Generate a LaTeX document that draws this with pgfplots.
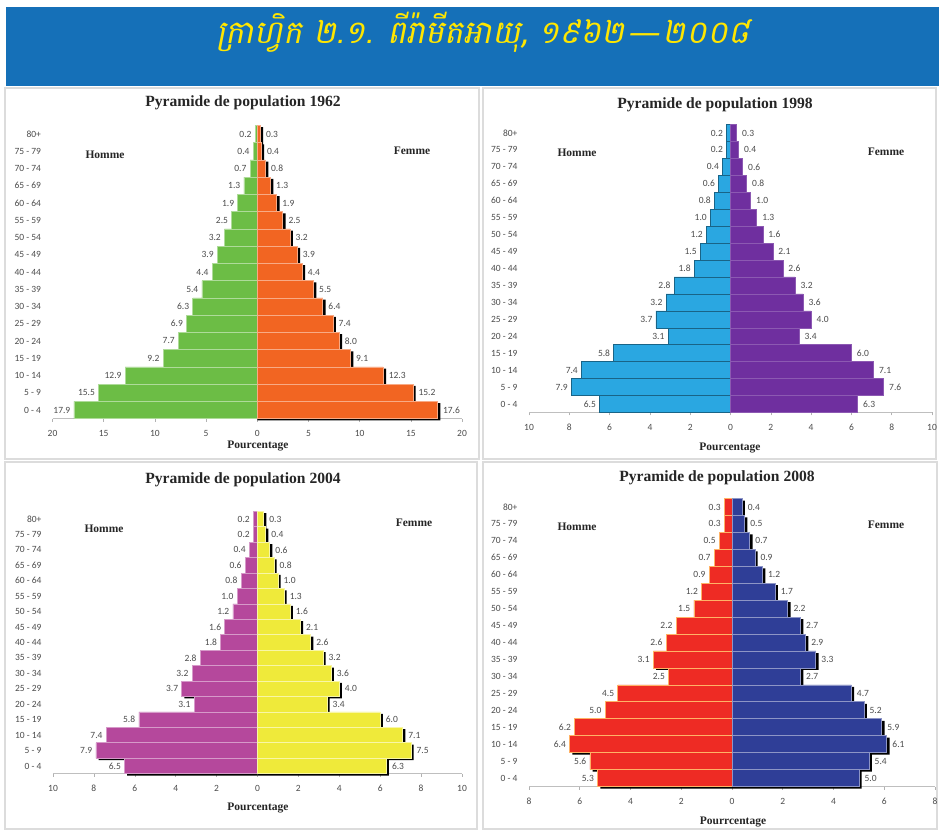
\documentclass[border=0pt]{standalone}
\usepackage{fontspec}
\setmainfont{Liberation Serif}
\newfontfamily\carlito{Carlito}
\newfontfamily\khmer[Script=Khmer,FakeSlant=0.2]{Battambang}
\newfontfamily\dashfont[FakeSlant=0.2]{DejaVu Sans}
\usepackage{pgfplots}
\usepackage{pgfplotstable}
\pgfplotsset{compat=1.18}

\definecolor{banner}{HTML}{1570B8}
\definecolor{ktitle}{HTML}{FFE600}
\definecolor{frame}{HTML}{DCDCDC}
\definecolor{gA}{HTML}{6CBD45}
\definecolor{oA}{HTML}{F26522}
\definecolor{bB}{HTML}{2AA7E1}
\definecolor{pB}{HTML}{6F2F9F}
\definecolor{mC}{HTML}{B5489C}
\definecolor{yC}{HTML}{EFEA3A}
\definecolor{rD}{HTML}{EE2B24}
\definecolor{nD}{HTML}{2F3E97}

% pos: 0 = 0-4 ... 16 = 80+ ; m = Homme, f = Femme (%)
\pgfplotstableread{
pos m f
16 0.2 0.3
15 0.4 0.4
14 0.7 0.8
13 1.3 1.3
12 1.9 1.9
11 2.5 2.5
10 3.2 3.2
9 3.9 3.9
8 4.4 4.4
7 5.4 5.5
6 6.3 6.4
5 6.9 7.4
4 7.7 8.0
3 9.2 9.1
2 12.9 12.3
1 15.5 15.2
0 17.9 17.6
}\tA

\pgfplotstableread{
pos m f
16 0.2 0.3
15 0.2 0.4
14 0.4 0.6
13 0.6 0.8
12 0.8 1.0
11 1.0 1.3
10 1.2 1.6
9 1.5 2.1
8 1.8 2.6
7 2.8 3.2
6 3.2 3.6
5 3.7 4.0
4 3.1 3.4
3 5.8 6.0
2 7.4 7.1
1 7.9 7.6
0 6.5 6.3
}\tB

\pgfplotstableread{
pos m f
16 0.2 0.3
15 0.2 0.4
14 0.4 0.6
13 0.6 0.8
12 0.8 1.0
11 1.0 1.3
10 1.2 1.6
9 1.6 2.1
8 1.8 2.6
7 2.8 3.2
6 3.2 3.6
5 3.7 4.0
4 3.1 3.4
3 5.8 6.0
2 7.4 7.1
1 7.9 7.5
0 6.5 6.3
}\tC

\pgfplotstableread{
pos m f
16 0.3 0.4
15 0.3 0.5
14 0.5 0.7
13 0.7 0.9
12 0.9 1.2
11 1.2 1.7
10 1.5 2.2
9 2.2 2.7
8 2.6 2.9
7 3.1 3.3
6 2.5 2.7
5 4.5 4.7
4 5.0 5.2
3 6.2 5.9
2 6.4 6.1
1 5.6 5.4
0 5.3 5.0
}\tD

\newcommand{\tickfont}{\carlito\fontsize{9.5}{11}\selectfont}
\pgfplotsset{
  pyr/.style={
    scale only axis, anchor=south west,
    xbar,
    ymin=-0.5, ymax=16.5,
    ytick={0,...,16},
    yticklabels={0 - 4,5 - 9,10 - 14,15 - 19,20 - 24,25 - 29,30 - 34,35 - 39,40 - 44,45 - 49,50 - 54,55 - 59,60 - 64,65 - 69,70 - 74,75 - 79,80+},
    axis x line*=bottom, axis y line*=left,
    y axis line style={draw=none},
    x axis line style={draw=black!25, line width=0.8pt},
    ytick style={draw=none},
    xtick style={draw=black!30, line width=0.6pt},
    tick align=outside, major tick length=3pt,
    ticklabel style={font=\tickfont, text=black!70},
    xticklabel style={yshift=-5pt},
    yticklabel style={xshift=-5pt},
    clip=false,
    every node near coord/.append style={font=\tickfont, text=black!70},
  },
  lab/.style={nodes near coords={\pgfmathprintnumber[fixed,fixed zerofill,precision=1,assume math mode=true]{\pgfplotspointmeta}}, point meta=explicit},
  labL/.style={lab, every node near coord/.append style={anchor=east}},
  labR/.style={lab, every node near coord/.append style={anchor=west, xshift=2pt}},
}

\begin{document}
\begin{tikzpicture}
\path[use as bounding box, fill=white] (0,0) rectangle (939pt,830pt);
% banner
\fill[banner] (6pt,823pt) rectangle (939pt,744pt);
\node[text=ktitle, font=\khmer\fontsize{32}{36}\selectfont] at (483pt,798pt) {ក្រាហ្វិក ២.១. ពីរ៉ាមីតអាយុ, ១៩៦២\hspace{3pt}{\dashfont—}\hspace{3pt}២០០៨};
% frames
\draw[frame, line width=2pt] (5pt,742pt) rectangle (479pt,371pt);
\draw[frame, line width=2pt] (483pt,742pt) rectangle (936pt,371pt);
\draw[frame, line width=2pt] (5pt,368pt) rectangle (477pt,1pt);
\draw[frame, line width=2pt] (483pt,368pt) rectangle (937pt,1pt);

% ---- 1962
\begin{axis}[pyr, at={(52.5pt,411.4pt)}, width=409.5pt, height=293.2pt,
  xmin=-20, xmax=20, xtick={-20,-15,...,20}, xticklabels={20,15,10,5,0,5,10,15,20},
  /pgf/bar width=17.25pt]
\addplot[fill=black, draw=none, bar shift=0pt] table[x expr=\thisrow{f}+0.28, y expr=\thisrow{pos}-0.1] {\tA};
\addplot[fill=gA, draw=gA!55!white, line width=0.7pt, bar shift=0pt, labL] table[x expr=-\thisrow{m}, y=pos, meta=m] {\tA};
\addplot[fill=oA, draw=oA!55!white, line width=0.7pt, bar shift=0pt, labR] table[x=f, y=pos, meta=f] {\tA};
\end{axis}

% ---- 1998
\begin{axis}[pyr, at={(529pt,417.5pt)}, width=403pt, height=288pt,
  xmin=-10, xmax=10, xtick={-10,-8,...,10}, xticklabels={10,8,6,4,2,0,2,4,6,8,10},
  /pgf/bar width=16.94pt]
\addplot[fill=bB, draw=bB!60!black, line width=0.5pt, bar shift=0pt, labL] table[x expr=-\thisrow{m}, y=pos, meta=m] {\tB};
\addplot[fill=pB, draw=pB!80!white, line width=0.5pt, bar shift=0pt, labR] table[x=f, y=pos, meta=f] {\tB};
\end{axis}

% ---- 2004
\begin{axis}[pyr, at={(53pt,56.3pt)}, width=409pt, height=262.4pt,
  xmin=-10, xmax=10, xtick={-10,-8,...,10}, xticklabels={10,8,6,4,2,0,2,4,6,8,10},
  /pgf/bar width=15.44pt]
\addplot[fill=black, draw=none, bar shift=0pt] table[x expr=\thisrow{f}+0.13, y expr=\thisrow{pos}-0.12] {\tC};
\addplot[fill=black, draw=none, bar shift=0pt] table[x expr=-\thisrow{m}+0.13, y expr=\thisrow{pos}-0.12] {\tC};
\addplot[fill=mC, draw=mC!55!white, line width=0.7pt, bar shift=0pt, labL] table[x expr=-\thisrow{m}, y=pos, meta=m] {\tC};
\addplot[fill=yC, draw=yC!45!white, line width=0.7pt, bar shift=0pt, labR] table[x=f, y=pos, meta=f] {\tC};
\end{axis}

% ---- 2008
\begin{axis}[pyr, at={(529pt,43.5pt)}, width=406pt, height=288pt,
  xmin=-8, xmax=8, xtick={-8,-6,...,8}, xticklabels={8,6,4,2,0,2,4,6,8},
  /pgf/bar width=16.94pt]
\addplot[fill=black, draw=none, bar shift=0pt] table[x expr=\thisrow{f}+0.11, y expr=\thisrow{pos}-0.12] {\tD};
\addplot[fill=black, draw=none, bar shift=0pt] table[x expr=-\thisrow{m}+0.11, y expr=\thisrow{pos}-0.12] {\tD};
\addplot[fill=rD, draw=orange!60!white, line width=0.7pt, bar shift=0pt, labL] table[x expr=-\thisrow{m}, y=pos, meta=m] {\tD};
\addplot[fill=nD, draw=nD!55!white, line width=0.7pt, bar shift=0pt, labR] table[x=f, y=pos, meta=f] {\tD};
\end{axis}

% titles and labels
\begin{scope}[every node/.style={text=black!85}]
\node[font=\bfseries\fontsize{15.6}{17}\selectfont] at (243pt,727pt) {Pyramide de population 1962};
\node[font=\bfseries\fontsize{15.6}{17}\selectfont] at (715pt,725pt) {Pyramide de population 1998};
\node[font=\bfseries\fontsize{15.6}{17}\selectfont] at (243pt,350pt) {Pyramide de population 2004};
\node[font=\bfseries\fontsize{15.6}{17}\selectfont] at (717pt,352pt) {Pyramide de population 2008};
\node[font=\bfseries\fontsize{11.5}{13}\selectfont] at (105pt,675pt) {Homme};
\node[font=\bfseries\fontsize{11.5}{13}\selectfont] at (412pt,679pt) {Femme};
\node[font=\bfseries\fontsize{11.5}{13}\selectfont] at (577pt,677pt) {Homme};
\node[font=\bfseries\fontsize{11.5}{13}\selectfont] at (886pt,678pt) {Femme};
\node[font=\bfseries\fontsize{11.5}{13}\selectfont] at (104pt,301pt) {Homme};
\node[font=\bfseries\fontsize{11.5}{13}\selectfont] at (414pt,307pt) {Femme};
\node[font=\bfseries\fontsize{11.5}{13}\selectfont] at (577pt,303pt) {Homme};
\node[font=\bfseries\fontsize{11.5}{13}\selectfont] at (886pt,305pt) {Femme};
\node[font=\bfseries\fontsize{11.5}{13}\selectfont] at (258pt,384pt) {Pourcentage};
\node[font=\bfseries\fontsize{11.5}{13}\selectfont] at (730pt,382pt) {Pourcentage};
\node[font=\bfseries\fontsize{11.5}{13}\selectfont] at (258pt,22pt) {Pourcentage};
\node[font=\bfseries\fontsize{11.5}{13}\selectfont] at (733pt,8pt) {Pourrcentage};
\end{scope}
\end{tikzpicture}
\end{document}
